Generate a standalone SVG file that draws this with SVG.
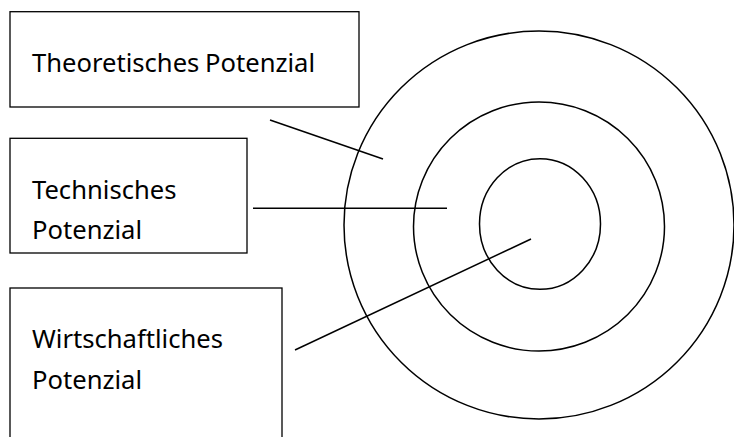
<svg xmlns="http://www.w3.org/2000/svg" width="734" height="437" viewBox="0 0 734 437">
<style>
.box{fill:#fff;stroke:#000;stroke-width:1.3}
.ring{fill:none;stroke:#000;stroke-width:1.5}
.lbl{font-family:"Noto Sans","Open Sans",sans-serif;font-size:25.6px;fill:#000}
.conn line{stroke:#000;stroke-width:1.5}
</style>
<rect width="734" height="437" fill="#fff"/>
<g id="rings">
<ellipse class="ring" cx="539" cy="225" rx="195" ry="194"/>
<ellipse class="ring" cx="539" cy="226.5" rx="125.5" ry="124.5"/>
<ellipse class="ring" cx="540" cy="224" rx="60.5" ry="65.3"/>
</g>
<g id="theoretisch">
<rect class="box" x="10" y="11.7" width="349" height="95.3"/>
<text class="lbl" x="32" y="72" word-spacing="-1">Theoretisches Potenzial</text>
</g>
<g id="technisch">
<rect class="box" x="10" y="138.3" width="237" height="114.7"/>
<text class="lbl" x="32" y="199">Technisches</text>
<text class="lbl" x="32" y="239">Potenzial</text>
</g>
<g id="wirtschaftlich">
<rect class="box" x="10" y="288" width="272" height="160"/>
<text class="lbl" x="32" y="348">Wirtschaftliches</text>
<text class="lbl" x="32" y="389">Potenzial</text>
</g>
<g id="connectors" class="conn">
<line x1="270" y1="120" x2="383" y2="159"/>
<line x1="253" y1="208.3" x2="447" y2="208.3"/>
<line x1="295" y1="350" x2="531" y2="239"/>
</g>
</svg>
